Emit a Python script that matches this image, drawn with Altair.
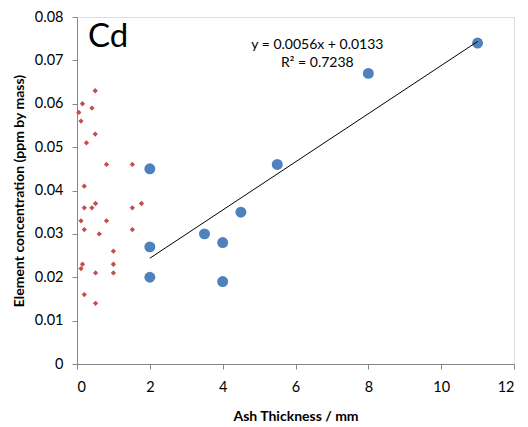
import altair as alt
import pandas as pd

# Red diamond series
red_x = [0.5, 0.15, 0.41, 0.05, 0.11, 0.5, 0.26, 0.81, 1.52, 0.2,
         0.2, 0.41, 0.51, 1.52, 1.77, 0.11, 0.81, 0.2, 1.52, 0.61,
         1.0, 0.15, 0.11, 1.0, 0.51, 1.0, 0.2, 0.51]
red_y = [0.063, 0.060, 0.059, 0.058, 0.056, 0.053, 0.051, 0.046, 0.046, 0.041,
         0.036, 0.036, 0.037, 0.036, 0.037, 0.033, 0.033, 0.031, 0.031, 0.030,
         0.026, 0.023, 0.022, 0.023, 0.021, 0.021, 0.016, 0.014]

# Blue circle series
blue_x = [2, 2, 2, 3.5, 4, 4, 4.5, 5.5, 8, 11]
blue_y = [0.045, 0.027, 0.020, 0.030, 0.028, 0.019, 0.035, 0.046, 0.067, 0.074]

x_ticks = [0, 2, 4, 6, 8, 10, 12]
y_ticks = [0, 0.01, 0.02, 0.03, 0.04, 0.05, 0.06, 0.07, 0.08]

red = pd.DataFrame({"x": red_x, "y": red_y})
blue = pd.DataFrame({"x": blue_x, "y": blue_y})

FONT = "Lato"
AX = "#868686"

xscale = alt.Scale(domain=[0, 12], nice=False, zero=False)
yscale = alt.Scale(domain=[0, 0.08], nice=False, zero=False)

xaxis = alt.Axis(values=x_ticks, title="Ash Thickness / mm", grid=False,
                 domainColor=AX, tickColor=AX, tickSize=5, labelPadding=11,
                 labelFontSize=14.5, labelFont=FONT, labelColor="#000000",
                 titleFont=FONT, titleFontSize=14, titleFontWeight="bold",
                 titlePadding=16, titleColor="#000000")
yaxis = alt.Axis(values=y_ticks, title="Element concentration (ppm by mass)",
                 grid=False, domainColor=AX, tickColor=AX, tickSize=5,
                 labelPadding=9, labelFontSize=14.5, labelFont=FONT,
                 labelColor="#000000",
                 labelExpr="datum.value == 0 ? '0' : format(datum.value, '.2f')",
                 titleFont=FONT, titleFontSize=14, titleFontWeight="bold",
                 titlePadding=8, titleColor="#000000")

base_red = alt.Chart(red).mark_point(shape="diamond", filled=True, opacity=1,
                                     color="#C0504D", size=28).encode(
    x=alt.X("x:Q", scale=xscale, axis=xaxis),
    y=alt.Y("y:Q", scale=yscale, axis=yaxis),
)

base_blue = alt.Chart(blue).mark_circle(color="#4F81BD", opacity=1, size=120).encode(
    x=alt.X("x:Q", scale=xscale),
    y=alt.Y("y:Q", scale=yscale),
)

trend = alt.Chart(blue).transform_regression("x", "y").mark_line(
    color="#000000", strokeWidth=1).encode(
    x=alt.X("x:Q", scale=xscale),
    y=alt.Y("y:Q", scale=yscale),
)

labels = pd.DataFrame({
    "x": [6.6, 6.6],
    "y": [0.0735, 0.0695],
    "t": ["y = 0.0056x + 0.0133", "R² = 0.7238"],
})
eq = alt.Chart(labels).mark_text(font=FONT, fontSize=14, color="#000000",
                                 align="center").encode(
    x=alt.X("x:Q", scale=xscale),
    y=alt.Y("y:Q", scale=yscale),
    text="t:N",
)

title_df = pd.DataFrame({"x": [0.3], "y": [0.0755], "t": ["Cd"]})
cd = alt.Chart(title_df).mark_text(font=FONT, fontSize=33, color="#000000",
                                   align="left", baseline="middle").encode(
    x=alt.X("x:Q", scale=xscale),
    y=alt.Y("y:Q", scale=yscale),
    text="t:N",
)

chart = (base_red + base_blue + trend + eq + cd).properties(
    width=437, height=347,
    autosize=alt.AutoSizeParams(type="none"),
    padding={"left": 69, "top": 9, "right": 6, "bottom": 63},
).configure_view(stroke=None).configure(background="#ffffff")

chart.save("out.html", embed_options={"renderer": "svg", "actions": False})
